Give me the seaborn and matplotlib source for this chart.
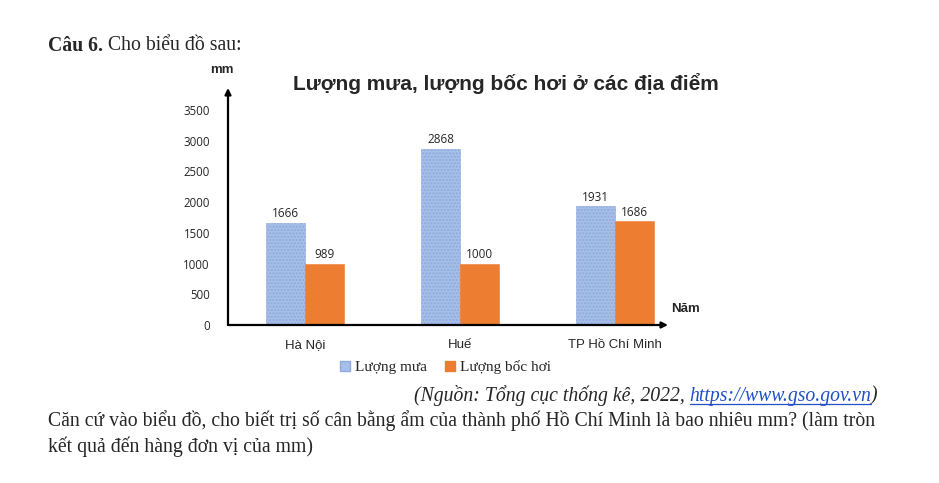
import pandas as pd
import seaborn as sns
import matplotlib.pyplot as plt
import matplotlib.lines as mlines

# data
places = ['Hà Nội', 'Huế', 'TP Hồ Chí Minh']
luong_mua = [1666, 2868, 1931]
luong_boc_hoi = [989, 1000, 1686]
series = ['Lượng mưa', 'Lượng bốc hơi']
yticks = [0, 500, 1000, 1500, 2000, 2500, 3000, 3500]

df = pd.DataFrame({'place': places * 2,
                   'series': [series[0]] * 3 + [series[1]] * 3,
                   'value': luong_mua + luong_boc_hoi})

sns.set_style('white')
plt.rcParams['font.family'] = ['Liberation Sans', 'DejaVu Sans']

blue = '#a6bfe9'
orange = '#ed7d31'
numfont = ['Open Sans', 'DejaVu Sans']
serif = ['Liberation Serif', 'DejaVu Serif']
W, H = 939, 483

fig = plt.figure(figsize=(9.39, 4.83), dpi=100)
ax = fig.add_axes([228 / W, 158 / H, 440 / W, 237 / H])

sns.barplot(data=df, x='place', y='value', hue='series', palette=[blue, orange],
            width=0.5, gap=0, ax=ax, legend=False, saturation=1)

# dotted texture on the blue bars
for bar in ax.containers[0]:
    bar.set_hatch('.....')
    bar.set_edgecolor('#8fa9dc')
    bar.set_linewidth(0.4)
for bar in ax.containers[1]:
    bar.set_edgecolor(orange)
    bar.set_linewidth(0.4)

for cont in ax.containers:
    ax.bar_label(cont, fmt='%d', padding=2, fontsize=8.5, color='#262626', family=numfont)

ax.set_xlim(-0.497, 2.342)
ax.set_ylim(0, 3858)
ax.set_yticks(yticks)
ax.set_yticklabels([str(t) for t in yticks], fontsize=8.3, color='#262626', family=numfont)
ax.tick_params(axis='y', length=0, pad=13)
ax.tick_params(axis='x', length=0, pad=10, labelsize=9.5)
ax.set_xlabel('')
ax.set_ylabel('')
for s in ax.spines.values():
    s.set_visible(False)

# axes with arrow heads
ax.annotate('', xy=(-0.497, 3858), xytext=(-0.497, 0),
            arrowprops=dict(arrowstyle='-|>', color='black', lw=1.6,
                            mutation_scale=9, shrinkA=0, shrinkB=0),
            annotation_clip=False)
ax.annotate('', xy=(2.342, 0), xytext=(-0.497, 0),
            arrowprops=dict(arrowstyle='-|>', color='black', lw=1.6,
                            mutation_scale=9, shrinkA=0, shrinkB=0),
            annotation_clip=False)

fig.text(222 / W, 1 - 70 / H, 'mm', fontsize=9.5, fontweight='bold', ha='center', va='center')
fig.text(686 / W, 1 - 309 / H, 'Năm', fontsize=9.5, fontweight='bold', ha='center', va='center')
fig.text(506 / W, 1 - 83 / H, 'Lượng mưa, lượng bốc hơi ở các địa điểm',
         fontsize=15, fontweight='bold', ha='center', va='center')

# legend in serif text
handles = [mlines.Line2D([], [], marker='s', linestyle='none', markersize=6.5,
                         markerfacecolor=blue, markeredgecolor='#8fa9dc'),
           mlines.Line2D([], [], marker='s', linestyle='none', markersize=6.5,
                         markerfacecolor=orange, markeredgecolor=orange)]
fig.legend(handles, series, loc='center', bbox_to_anchor=(445 / W, 1 - 367 / H),
           ncol=2, frameon=False, handlelength=0.8, handletextpad=0.25,
           columnspacing=1.1, prop={'family': serif, 'size': 11})

# surrounding question text
fs = 14.2
fig.canvas.draw()
r = fig.canvas.get_renderer()

c6 = fig.text(48 / W, 1 - 46 / H, 'Câu 6. ', fontsize=fs, fontweight='bold',
              family=serif, ha='left', va='center')
bb = c6.get_window_extent(r)
fig.text(bb.x1 / W, 1 - 46 / H, 'Cho biểu đồ sau:', fontsize=fs,
         family=serif, ha='left', va='center')

# source line, right aligned at x = 878
ysrc = 1 - 396 / H
end = fig.text(878 / W, ysrc, ')', fontsize=fs, family=serif, style='italic',
               ha='right', va='center')
bb = end.get_window_extent(r)
url = fig.text(bb.x0 / W, ysrc, 'https://www.gso.gov.vn', fontsize=fs, family=serif,
               style='italic', color='#2050c8', ha='right', va='center')
bb2 = url.get_window_extent(r)
fig.add_artist(mlines.Line2D([bb2.x0 / W, bb2.x1 / W], [(bb2.y0 + 2) / H] * 2,
                             color='#2050c8', lw=0.9))
fig.text(bb2.x0 / W, ysrc, '(Nguồn: Tổng cục thống kê, 2022, ', fontsize=fs,
         family=serif, style='italic', ha='right', va='center')

fig.text(48 / W, 1 - 421 / H,
         'Căn cứ vào biểu đồ, cho biết trị số cân bằng ẩm của thành phố Hồ Chí Minh là bao nhiêu mm? (làm tròn',
         fontsize=fs, family=serif, ha='left', va='center')
fig.text(48 / W, 1 - 447 / H, 'kết quả đến hàng đơn vị của mm)',
         fontsize=fs, family=serif, ha='left', va='center')

fig.savefig('out.png', dpi=100)
